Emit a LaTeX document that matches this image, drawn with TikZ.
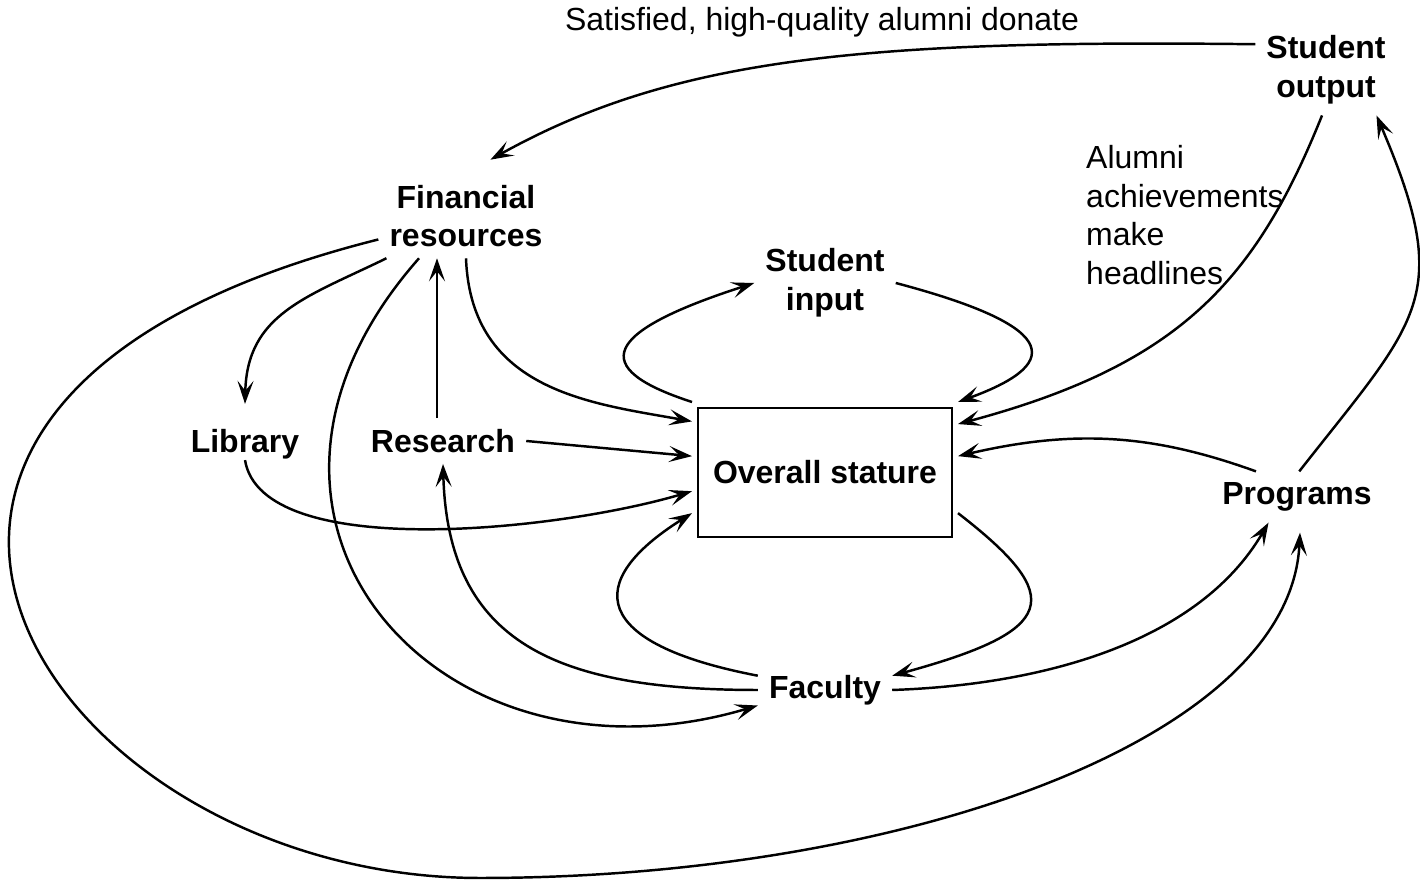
\documentclass[tikz,border=0pt]{standalone}
\usepackage{fontspec}
\setmainfont{Liberation Sans}
\usetikzlibrary{arrows.meta}
\begin{document}
\begin{tikzpicture}[
  line width=0.7pt,
  arr/.style={-{Stealth[length=2.3mm,width=1.6mm,inset=1mm]}},
  lbl/.style={font=\fontsize{9.1}{11}\selectfont\bfseries, align=center, inner sep=1mm},
  txt/.style={font=\fontsize{9.1}{11}\selectfont, align=left, inner sep=0pt},
  box/.style={draw, lbl, minimum width=2.54cm, minimum height=1.29cm, outer sep=0.6mm}
]
%\draw[help lines] (0,0) grid (14,8);
\useasboundingbox (0,0) rectangle (14.2,8.81);
\node[txt] (donate) at (8.22,8.59) {Satisfied, high-quality alumni donate};
\node[lbl] (sout) at (13.26,8.11) {Student\\output};
\node[lbl] (fin) at (4.66,6.65) {Financial\\resources};
\node[lbl] (sin) at (8.25,5.98) {Student\\input};
\node[txt, anchor=west] (ach) at (10.85,6.66) {Alumni\\achievements\\make\\headlines};
\node[lbl] (lib) at (2.45,4.37) {Library};
\node[lbl] (res) at (4.43,4.40) {Research};
\node[box] (stat) at (8.25,4.085) {Overall stature};
\node[lbl] (prog) at (12.97,3.84) {Programs};
\node[lbl] (fac) at (8.25,1.91) {Faculty};
\coordinate (loopbottom) at (4.80,0.03);
%
\draw[arr] (sout.160) .. controls +(-4.00,0.05) and +(1.80,1.00) .. ([yshift=1.4mm]fin.60);
\draw[arr] (sout.265) .. controls +(-0.67,-1.67) and +(2.20,0.59) .. (stat.20);
\draw[arr] (prog.85) .. controls +(1.20,1.53) and +(0.78,-1.82) .. (sout.-42);
\draw[arr] (prog.148) .. controls +(-1.00,0.36) and +(1.20,0.28) .. (stat.7);
\draw[arr] (fac.east) .. controls +(1.50,0.05) and +(-0.70,-1.20) .. (prog.222);
\draw[arr] (stat.-17) .. controls +(1.10,-0.85) and +(1.65,0.45) .. (fac.12);
\draw[arr] (fac.168) .. controls +(-1.67,0.32) and +(-1.10,-0.69) .. (stat.197);
\draw[arr] (fac.west) .. controls +(-2.00,0) and +(0.05,-1.80) .. (res.south);
\draw[arr] (fin.222) .. controls +(-2.30,-2.60) and +(-3.20,-0.95) .. (fac.193);
\draw[arr] (fin.195) .. controls +(-6.51,-1.63) and +(-4.30,0) .. (loopbottom)
  .. controls +(4.20,0) and +(-0.10,-2.08) .. ([xshift=0.3mm,yshift=-1mm]prog.south);
\draw[arr] (fin.208) .. controls +(-0.80,-0.39) and +(0.02,0.90) .. ([yshift=1.4mm]lib.north);
\draw[arr] ([xshift=-0.6mm]res.north) -- ([xshift=-0.6mm]res.north |- fin.south);
\draw[arr] (fin.south) .. controls +(0.05,-1.33) and +(-1.00,0.18) .. (stat.159);
\draw[arr] (res.east) -- (stat.173.5);
\draw[arr] ([yshift=1mm]lib.south) .. controls +(0.17,-1.02) and +(-1.35,-0.40) .. (stat.188);
\draw[arr] (stat.north west) .. controls +(-1.05,0.34) and +(-1.52,-0.49) .. (sin.west);
\draw[arr] (sin.east) .. controls +(1.55,-0.41) and +(1.13,0.41) .. (stat.north east);
\end{tikzpicture}
\end{document}
